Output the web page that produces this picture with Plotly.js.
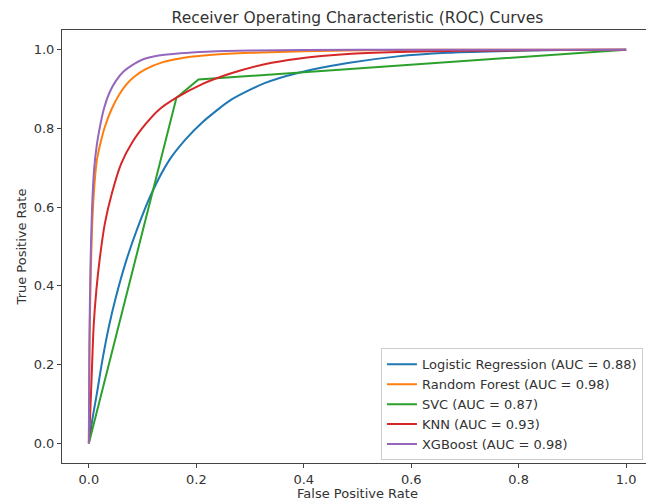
<!DOCTYPE html>
<html>
<head>
<meta charset="utf-8">
<script src="https://cdn.plot.ly/plotly-3.0.1.min.js"></script>
<style>
  html, body { margin: 0; padding: 0; overflow: hidden; background: #fff; width: 646px; height: 501px; }
  #chart { width: 660px; height: 501px; }
</style>
</head>
<body>
<div id="chart"></div>
<script>
// Model names and AUC labels
const modelNames = ["Logistic Regression (AUC = 0.88)", "Random Forest (AUC = 0.98)", "SVC (AUC = 0.87)", "KNN (AUC = 0.93)", "XGBoost (AUC = 0.98)"];

// Logistic Regression
const lrFpr = [0, 0.007, 0.015, 0.025, 0.037, 0.05, 0.07, 0.09, 0.117, 0.15, 0.18, 0.21, 0.265, 0.327, 0.389, 0.482, 0.575, 0.667, 0.76, 0.88, 1.0];
const lrTpr = [0, 0.065, 0.127, 0.21, 0.295, 0.37, 0.466, 0.545, 0.636, 0.72, 0.772, 0.814, 0.873, 0.915, 0.941, 0.966, 0.983, 0.992, 0.996, 0.999, 1];

// Random Forest
const rfFpr = [0, 0.001, 0.003, 0.006, 0.01, 0.015, 0.022, 0.03, 0.042, 0.056, 0.07, 0.085, 0.105, 0.135, 0.18, 0.23, 0.3, 0.4, 0.55, 0.75, 1.0];
const rfTpr = [0, 0.22, 0.4, 0.55, 0.65, 0.72, 0.765, 0.805, 0.848, 0.885, 0.912, 0.932, 0.95, 0.967, 0.98, 0.987, 0.992, 0.996, 0.999, 1, 1];

// SVC
const svcFpr = [0, 0.163, 0.204, 1.0];
const svcTpr = [0, 0.878, 0.924, 1.0];

// KNN
const knnFpr = [0, 0.002, 0.004, 0.006, 0.009, 0.014, 0.02, 0.03, 0.043, 0.06, 0.08, 0.105, 0.13, 0.163, 0.21, 0.265, 0.327, 0.389, 0.482, 0.575, 0.7, 0.85, 1.0];
const knnTpr = [0, 0.06, 0.127, 0.2, 0.3, 0.39, 0.466, 0.56, 0.636, 0.71, 0.763, 0.81, 0.847, 0.878, 0.912, 0.94, 0.963, 0.977, 0.989, 0.994, 0.997, 0.999, 1];

// XGBoost
const xgbFpr = [0, 0.001, 0.003, 0.006, 0.01, 0.015, 0.02, 0.028, 0.038, 0.05, 0.065, 0.08, 0.1, 0.13, 0.17, 0.22, 0.3, 0.4, 0.6, 0.8, 1.0];
const xgbTpr = [0, 0.25, 0.45, 0.6, 0.7, 0.76, 0.8, 0.85, 0.89, 0.92, 0.945, 0.96, 0.975, 0.985, 0.991, 0.995, 0.998, 0.999, 1, 1, 1];

// Tick values / labels
const tickVals = [0, 0.2, 0.4, 0.6, 0.8, 1.0];
const tickText = ["0.0", "0.2", "0.4", "0.6", "0.8", "1.0"];

const colors = ["#1f77b4", "#ff7f0e", "#2ca02c", "#d62728", "#9467bd"];
const shapes = ["spline", "spline", "linear", "spline", "spline"];
const xs = [lrFpr, rfFpr, svcFpr, knnFpr, xgbFpr];
const ys = [lrTpr, rfTpr, svcTpr, knnTpr, xgbTpr];

const traces = modelNames.map((name, i) => ({
  x: xs[i], y: ys[i], name: name, type: "scatter", mode: "lines",
  line: { color: colors[i], width: 2, shape: shapes[i], smoothing: 0.7 }
}));

const font = { family: "DejaVu Sans, sans-serif", size: 13, color: "#333" };

const axisCommon = {
  range: [-0.05, 1.05],
  tickvals: tickVals, ticktext: tickText,
  showgrid: false, zeroline: false,
  showline: true, mirror: true, linecolor: "#444", linewidth: 1,
  ticks: "outside", ticklen: 4, tickcolor: "#444", tickwidth: 1,
  tickfont: font
};

const layout = {
  width: 660, height: 501,
  margin: { l: 62, r: 7, t: 30, b: 38 },
  paper_bgcolor: "#fff", plot_bgcolor: "#fff",
  font: font,
  title: { text: "Receiver Operating Characteristic (ROC) Curves", font: { family: "DejaVu Sans, sans-serif", size: 15.5, color: "#333" },
           xref: "paper", x: 0.5, xanchor: "center", yref: "container", y: 1 - 18 / 501, yanchor: "middle" },
  xaxis: Object.assign({}, axisCommon, { title: { text: "False Positive Rate", font: font, standoff: 4 } }),
  yaxis: Object.assign({}, axisCommon, { title: { text: "True Positive Rate", font: font, standoff: 4 } }),
  showlegend: true,
  legend: {
    x: 0.983, y: 0.006, xanchor: "right", yanchor: "bottom",
    bgcolor: "rgba(255,255,255,0.8)", bordercolor: "#cccccc", borderwidth: 1,
    font: font, itemwidth: 30, tracegroupgap: 0
  }
};

Plotly.newPlot("chart", traces, layout, { displayModeBar: false, staticPlot: true });
</script>
</body>
</html>
